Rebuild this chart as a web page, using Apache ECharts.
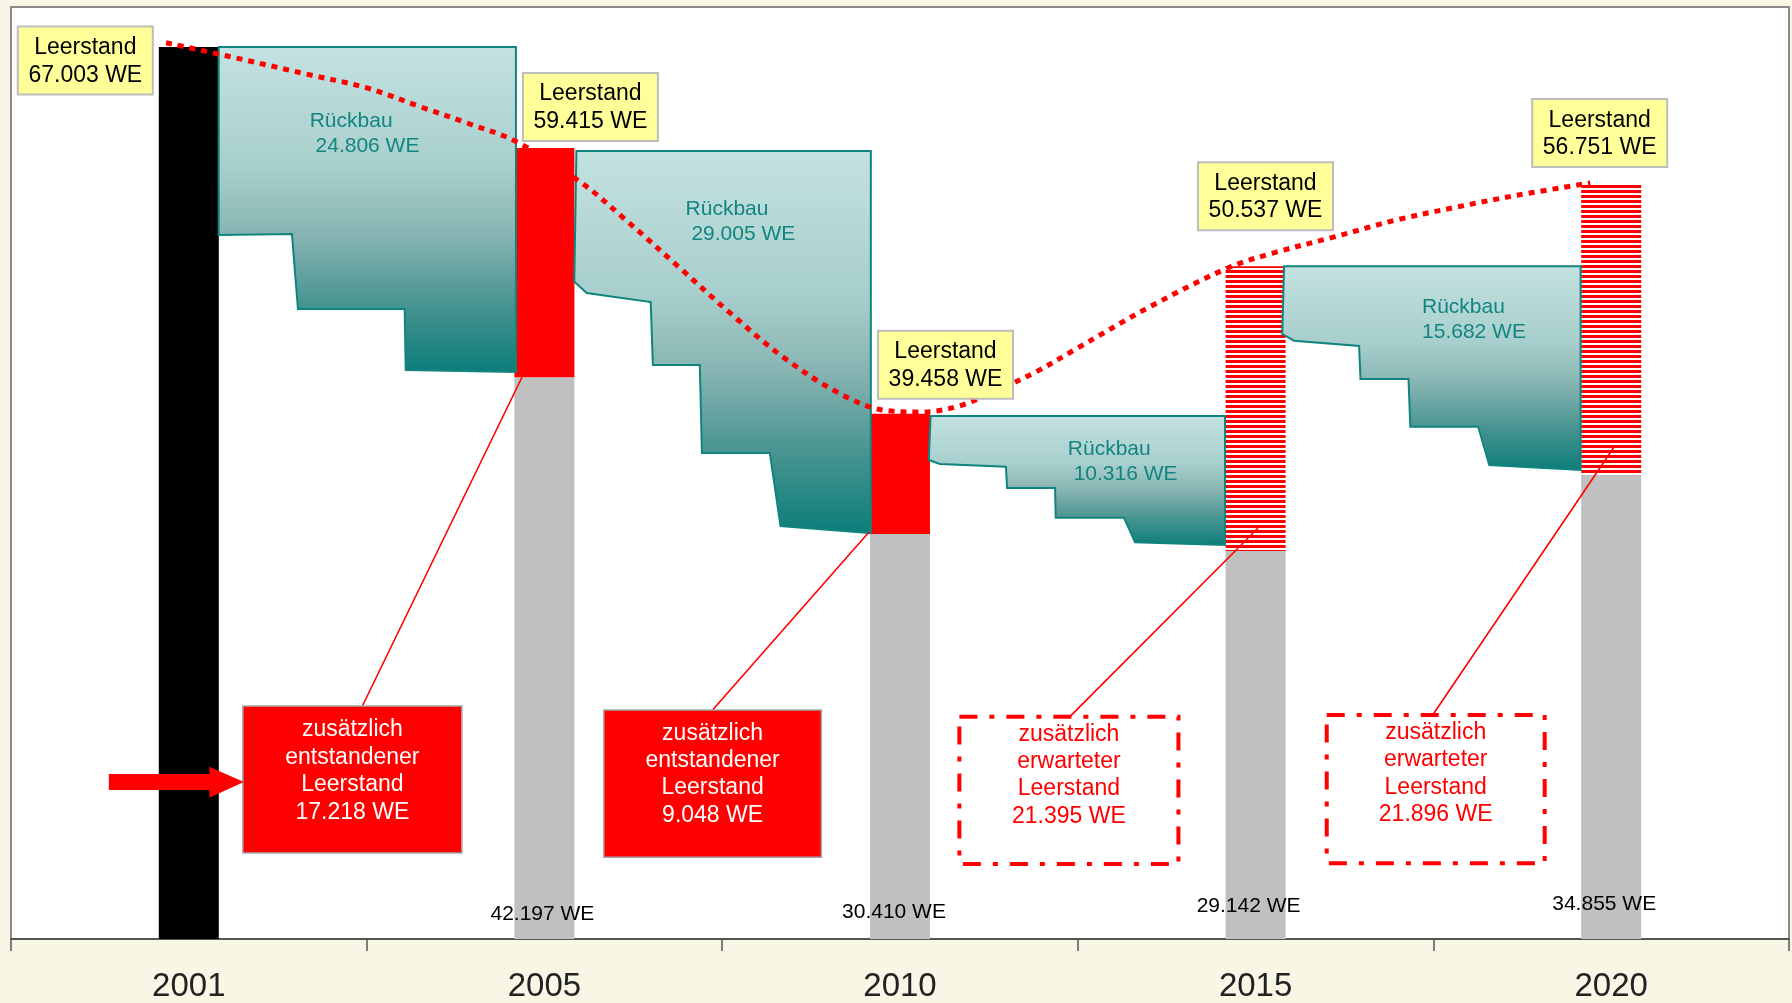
<!DOCTYPE html>
<html>
<head>
<meta charset="utf-8">
<script src="https://cdn.jsdelivr.net/npm/echarts@6/dist/echarts.min.js"></script>
<style>
html,body{margin:0;padding:0;background:#f8f6e4;}
#c{width:1792px;height:1003px;}
</style>
</head>
<body>
<div id="c"></div>
<script>
// ---------------- DATA ----------------
const years = ['2001', '2005', '2010', '2015', '2020'];
// total vacancy (Leerstand) per year, WE
const leerstand = [67003, 59415, 39458, 50537, 56751];
// remaining vacancy after demolition (2001: full stock shown black)
const bestand = [67003, 42197, 30410, 29142, 34855];
// additional vacancy that emerged / is expected
const zusaetzlich = [null, 17218, 9048, 21395, 21896];
// demolition between the years, WE
const rueckbau = [24806, 29005, 10316, 15682];
// stepped outline of each demolition block: [category position, WE]
const rueckbauShape1 = [[0.084, 67003], [0.920, 67003], [0.920, 42590], [0.610, 42740], [0.607, 47320], [0.307, 47320], [0.290, 52950], [0.084, 52880]];
const rueckbauShape2 = [[1.090, 59190], [1.918, 59190], [1.918, 30490], [1.664, 31020], [1.634, 36500], [1.443, 36500], [1.437, 43110], [1.305, 43110], [1.299, 47840], [1.119, 48520], [1.084, 49370]];
const rueckbauShape3 = [[2.086, 39280], [2.914, 39280], [2.914, 29590], [2.661, 29800], [2.630, 31640], [2.438, 31640], [2.436, 33870], [2.301, 33870], [2.298, 35470], [2.112, 35680], [2.081, 35980]];
const rueckbauShape4 = [[3.080, 50537], [3.914, 50537], [3.914, 35230], [3.657, 35600], [3.626, 38480], [3.435, 38480], [3.430, 42060], [3.295, 42060], [3.291, 44540], [3.108, 44940], [3.075, 45440]];
const rueckbauShapes = [rueckbauShape1, rueckbauShape2, rueckbauShape3, rueckbauShape4];
// dotted trend curve of the vacancy: [category position, WE]
const trendLine = [[-0.064, 67320], [0.158, 66020], [0.329, 64970], [0.501, 63920], [0.653, 62490], [0.782, 61290], [0.923, 59860], [1.105, 56780], [1.229, 54000], [1.381, 50400], [1.522, 47020], [1.671, 43710], [1.823, 41080], [1.951, 39730], [2.059, 39580], [2.166, 40030], [2.274, 41230], [2.382, 42590], [2.490, 44240], [2.703, 47490], [2.922, 50400], [3.049, 51520], [3.221, 52730], [3.395, 54000], [3.567, 54980], [3.739, 55880], [3.941, 56780]];
const yMax = 70000;

// ---------------- LAYOUT (annotation placement, not data) ----------------
const FONT = '"Liberation Sans", Arial, sans-serif';
const leerBoxOffset = [[-171, -20.5], [-21.5, -75], [-22, -83], [-57.6, -104], [-79, -84.4]];
const rueckbauLabel = [
  {at: [0.340, 61460], pad: ' '},
  {at: [1.397, 54830], pad: ' '},
  {at: [2.472, 36800], pad: ' '},
  {at: [3.468, 47470], pad: ''}
];
const zusatzBox = [
  {tl: [0.152, 17500], br: [0.768, 6460], target: [0.940, 42360], lineDx: 10, textDy: 10.3},
  {tl: [1.167, 17200], br: [1.779, 6140], target: [1.913, 30570], lineDx: 0, textDy: 9.6},
  {tl: [2.167, 16700], br: [2.783, 5630], target: [3.007, 30870], lineDx: 1, textDy: 3.9},
  {tl: [3.200, 16820], br: [3.813, 5690], target: [4.010, 37030], lineDx: -3, textDy: 4}
];
const valueLabelPos = [null, [-2, 14.5], [-6, 16.5], [-7, 22.5], [-7, 24.5]];

function fmt(v) { return String(v).replace(/\B(?=(\d{3})+(?!\d))/g, '.'); }

function stripePattern() {
  const c = document.createElement('canvas');
  c.width = 8; c.height = 5;
  const g = c.getContext('2d');
  g.fillStyle = '#ffffff'; g.fillRect(0, 0, 8, 5);
  g.fillStyle = '#ff0000'; g.fillRect(0, 0, 8, 3);
  return {image: c, repeat: 'repeat'};
}
const stripes = stripePattern();

const chart = echarts.init(document.getElementById('c'), null, {renderer: 'canvas', width: 1792, height: 1003});

function rueckbauItem(params, api) {
  const i = params.dataIndex;
  const pts = rueckbauShapes[i].map(p => api.coord(p));
  const lab = rueckbauLabel[i];
  const lp = api.coord(lab.at);
  const grad = new echarts.graphic.LinearGradient(0, 0, 0, 1, [
    {offset: 0, color: '#c3e2e1'},
    {offset: 0.37, color: '#a8cfcd'},
    {offset: 0.57, color: '#88b5b3'},
    {offset: 0.78, color: '#4a9592'},
    {offset: 1, color: '#0c7d79'}
  ]);
  return {
    type: 'group',
    children: [
      {type: 'polygon', shape: {points: pts}, style: {fill: grad, stroke: '#10847f', lineWidth: 2}},
      {type: 'text', x: lp[0], y: lp[1] - 12.7,
       style: {text: 'Rückbau\n' + lab.pad + fmt(api.value(1)) + ' WE', font: '21px ' + FONT,
               fill: '#138581', align: 'left', verticalAlign: 'top', lineHeight: 25.4}}
    ]
  };
}

function leerItem(params, api) {
  const i = params.dataIndex;
  const a = api.coord([api.value(0), api.value(1)]);
  const o = leerBoxOffset[i];
  const x = a[0] + o[0], y = a[1] + o[1];
  return {
    type: 'group',
    children: [
      {type: 'rect', shape: {x: x, y: y, width: 135, height: 68}, style: {fill: '#ffff99', stroke: '#bdbdbd', lineWidth: 2}},
      {type: 'text', x: x + 67.5, y: y + 35,
       style: {text: 'Leerstand\n' + fmt(api.value(1)) + ' WE', font: '23px ' + FONT, fill: '#000',
               align: 'center', verticalAlign: 'middle', lineHeight: 27.6}}
    ]
  };
}

function zusatzItem(params, api) {
  const k = params.dataIndex;
  const yi = api.value(0);
  const L = zusatzBox[k];
  const p0 = api.coord(L.tl), p1 = api.coord(L.br);
  const x = p0[0], y = p0[1], w = p1[0] - p0[0], h = p1[1] - p0[1];
  const t = api.coord(L.target);
  const expected = yi >= 3;
  const children = [
    {type: 'line', shape: {x1: x + w / 2 + L.lineDx, y1: y, x2: t[0], y2: t[1]}, style: {stroke: '#ff0000', lineWidth: 1.6}},
    {type: 'rect', shape: {x: x, y: y, width: w, height: h},
     style: expected ? {fill: '#ffffff', stroke: '#ff0000', lineWidth: 4, lineDash: [18, 12, 5, 12]}
                     : {fill: '#ff0000', stroke: '#a8a8a8', lineWidth: 1.5}},
    {type: 'text', x: x + w / 2, y: y + L.textDy,
     style: {text: (expected ? 'zusätzlich\nerwarteter\nLeerstand\n' : 'zusätzlich\nentstandener\nLeerstand\n') + fmt(api.value(1)) + ' WE',
             font: '23px ' + FONT, fill: expected ? '#ff0000' : '#ffffff', align: 'center', verticalAlign: 'top', lineHeight: 27.4}}
  ];
  if (k === 0) {
    const ym = y + h / 2;
    children.push({type: 'polygon', shape: {points: [
      [x - 134, ym - 5.5], [x - 33.5, ym - 5.5], [x - 33.5, ym - 12.8], [x + 1, ym + 2.5],
      [x - 33.5, ym + 18.2], [x - 33.5, ym + 10.5], [x - 134, ym + 10.5]]},
      style: {fill: '#ff0000'}});
  }
  return {type: 'group', children: children};
}

const option = {
  backgroundColor: '#f8f6e4',
  animation: false,
  grid: {left: 11, right: 3, top: 7, bottom: 64, show: true, backgroundColor: '#ffffff',
         borderColor: '#8a8a8a', borderWidth: 2, containLabel: false, outerBoundsMode: 'none'},
  xAxis: [
    {type: 'category', data: years, boundaryGap: true,
     axisLine: {lineStyle: {color: '#555', width: 2}},
     axisTick: {show: true, length: 12, lineStyle: {color: '#555', width: 1.5}},
     axisLabel: {fontFamily: FONT, fontSize: 33, color: '#222', margin: 31},
     splitLine: {show: false}},
    {type: 'value', min: -0.5, max: 4.5, show: false, splitLine: {show: false}}
  ],
  yAxis: {type: 'value', min: 0, max: yMax, show: false, splitLine: {show: false}},
  series: [
    {type: 'bar', name: 'Bestand', stack: 's', barWidth: 60, xAxisIndex: 0, z: 2,
     data: bestand.map((v, i) => ({
       value: v,
       itemStyle: {color: i === 0 ? '#000000' : '#c0c0c0'},
       label: i === 0 ? {show: false} : {show: true, position: 'insideBottom', distance: valueLabelPos[i][1],
              offset: [valueLabelPos[i][0], 0], formatter: fmt(v) + ' WE', color: '#000', fontSize: 21, fontFamily: FONT}
     }))},
    {type: 'bar', name: 'zusätzlicher Leerstand', stack: 's', barWidth: 60, xAxisIndex: 0, z: 2,
     data: zusaetzlich.map((v, i) => v == null ? null : ({value: v, itemStyle: {color: i <= 2 ? '#ff0000' : stripes}}))},
    {type: 'custom', name: 'Rückbau', xAxisIndex: 1, yAxisIndex: 0, z: 3,
     data: rueckbau.map((v, i) => [i + 0.5, v]), renderItem: rueckbauItem},
    {type: 'line', name: 'Leerstand-Trend', xAxisIndex: 1, yAxisIndex: 0, z: 5, data: trendLine,
     smooth: 0.35, symbol: 'none', silent: true,
     lineStyle: {color: '#ff0000', width: 5, type: [6, 6], cap: 'butt'}},
    {type: 'custom', name: 'Leerstand', xAxisIndex: 1, yAxisIndex: 0, z: 6,
     data: leerstand.map((v, i) => [i, v]), renderItem: leerItem},
    {type: 'custom', name: 'Zusatz', xAxisIndex: 1, yAxisIndex: 0, z: 6,
     data: zusaetzlich.map((v, i) => [i, v]).filter(d => d[1] != null), renderItem: zusatzItem}
  ]
};
chart.setOption(option);
</script>
</body>
</html>
